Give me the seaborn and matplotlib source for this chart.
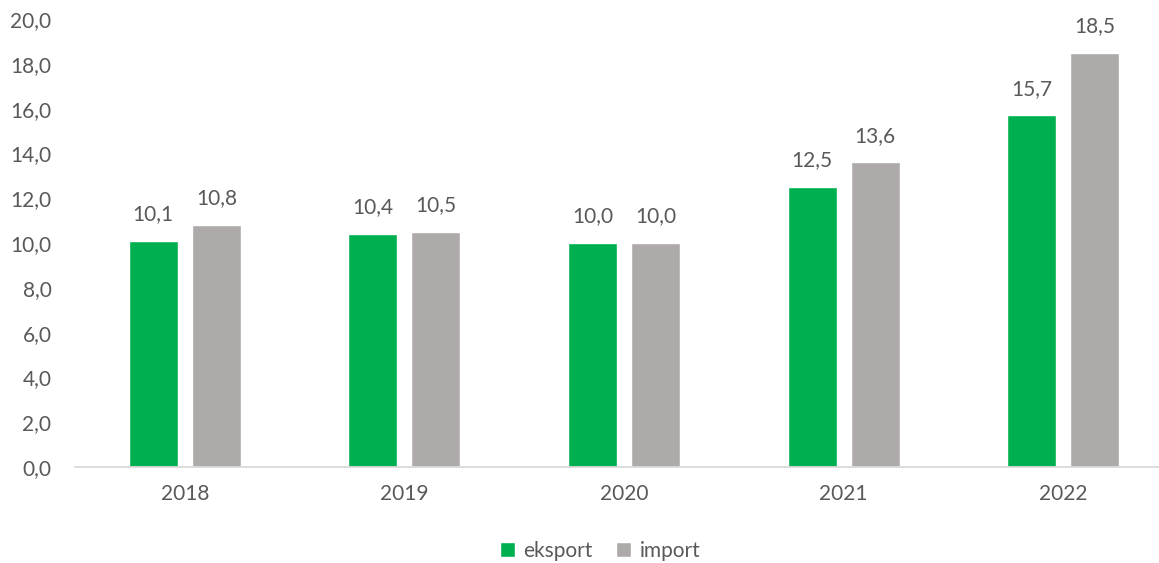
import matplotlib
matplotlib.use("Agg")
import matplotlib.pyplot as plt
import seaborn as sns
import pandas as pd
from matplotlib.patches import Patch

years = ["2018", "2019", "2020", "2021", "2022"]
eksport = [10.1, 10.4, 10.0, 12.5, 15.7]
imp = [10.8, 10.5, 10.0, 13.6, 18.5]
series_names = ["eksport", "import"]
colors = ["#00B050", "#AEAAAA"]
yticks = [0, 2, 4, 6, 8, 10, 12, 14, 16, 18, 20]

df = pd.DataFrame({
    "year": years * 2,
    "value": eksport + imp,
    "series": [series_names[0]] * len(years) + [series_names[1]] * len(years),
})

sns.set_theme(style="white")
plt.rcParams["font.family"] = ["Lato", "DejaVu Sans"]
text_color = "#595959"

fig = plt.figure(figsize=(11.59, 5.63), dpi=100)
ax = fig.add_axes([75 / 1159, (563 - 467) / 563, 1 - 75 / 1159, 448 / 563])

sns.barplot(data=df, x="year", y="value", hue="series", palette=colors,
            width=0.574, gap=0.223, ax=ax, legend=False, saturation=1)

for container in ax.containers:
    labels = [f"{b.get_height():.1f}".replace(".", ",") for b in container]
    ax.bar_label(container, labels=labels, padding=12, fontsize=15, color=text_color)

ax.set_ylim(0, 20)
ax.set_yticks(yticks)
ax.set_yticklabels([f"{t:.1f}".replace(".", ",") for t in yticks])
ax.set_xlim(-0.5, (1159 - 75) / 219.6 - 0.5)
ax.set_xlabel("")
ax.set_ylabel("")
ax.tick_params(axis="both", length=0, labelsize=15, colors=text_color)
ax.tick_params(axis="x", pad=12)
ax.tick_params(axis="y", pad=17)
for s in ["top", "right", "left"]:
    ax.spines[s].set_visible(False)
ax.spines["bottom"].set_color("#D9D9D9")
ax.spines["bottom"].set_linewidth(1.3)
ax.grid(False)

handles = [Patch(facecolor=c, label=n) for c, n in zip(colors, series_names)]
fig.legend(handles=handles, loc="center", bbox_to_anchor=(600 / 1159, 1 - 551 / 563),
           ncol=2, frameon=False, fontsize=15, handlelength=0.75, handleheight=0.75,
           handletextpad=0.4, columnspacing=1.1, labelcolor=text_color)

fig.savefig("out.png", dpi=100)
